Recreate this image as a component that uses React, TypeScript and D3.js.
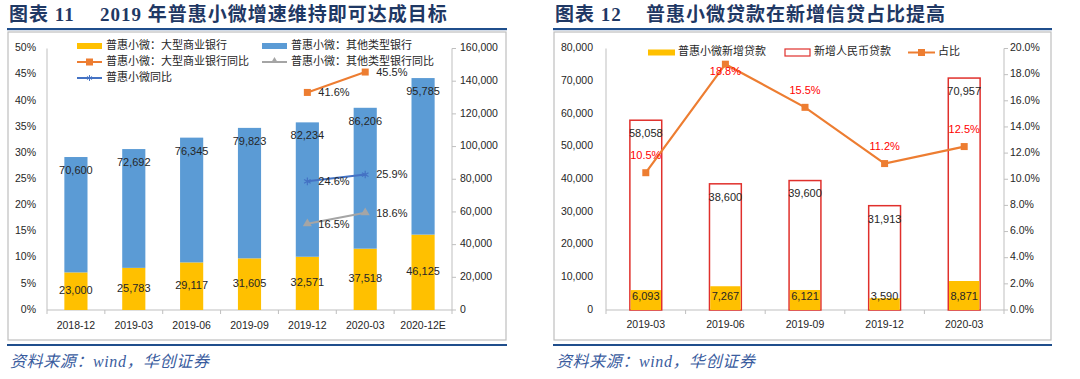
import React from 'react';
import * as d3 from 'd3';

// ---------- Left chart data ----------
const leftCats = ['2018-12', '2019-03', '2019-06', '2019-09', '2019-12', '2020-03', '2020-12E'];
const largeBank = [23000, 25783, 29117, 31605, 32571, 37518, 46125];
const otherBank = [70600, 72692, 76345, 79823, 82234, 86206, 95785];
const largeYoY: (number | null)[] = [null, null, null, null, 41.6, 45.5, null];
const otherYoY: (number | null)[] = [null, null, null, null, 16.5, 18.6, null];
const totalYoY: (number | null)[] = [null, null, null, null, 24.6, 25.9, null];
const leftPctTicks = [0, 5, 10, 15, 20, 25, 30, 35, 40, 45, 50];
const leftValTicks = [0, 20000, 40000, 60000, 80000, 100000, 120000, 140000, 160000];

// ---------- Right chart data ----------
const rightCats = ['2019-03', '2019-06', '2019-09', '2019-12', '2020-03'];
const inclusiveNew = [6093, 7267, 6121, 3590, 8871];
const rmbNew = [58058, 38600, 39600, 31913, 70957];
const shareRatio = [10.5, 18.8, 15.5, 11.2, 12.5];
const rightValTicks = [0, 10000, 20000, 30000, 40000, 50000, 60000, 70000, 80000];
const rightPctTicks = [0, 2, 4, 6, 8, 10, 12, 14, 16, 18, 20];

const YELLOW = '#FFC000';
const BLUE = '#5B9BD5';
const ORANGE = '#ED7D31';
const GRAY = '#A5A5A5';
const LBLUE = '#4472C4';
const RED = '#E0302C';
const AXIS = '#BFBFBF';
const TXT = '#262626';
const TITLE = '#1F3864';
const RULE = '#1F4E8C';
const FONT = '"Liberation Sans", Arial, "Noto Sans CJK SC", sans-serif';
const TFONT = '"Liberation Serif", "Noto Sans CJK SC", serif';

const fmt = d3.format(',');

function Header({ x, x2, num, text, textX }: { x: number; x2: number; num: string; text: string; textX: number }) {
  return (
    <g>
      <text x={x + 2} y={21} fontFamily={TFONT} fontWeight="bold" fontSize={19} fill={TITLE} letterSpacing={1}>
        {num}
      </text>
      <text x={textX} y={21} fontFamily={TFONT} fontWeight="bold" fontSize={19} fill={TITLE} letterSpacing={1}>
        {text}
      </text>
      <rect x={x} y={28} width={x2 - x} height={2.2} fill={RULE} />
      <rect x={x + 1} y={32} width={x2 - x - 2} height={308} fill="none" stroke={AXIS} strokeWidth={1.2} />
      <rect x={x} y={344} width={x2 - x} height={2} fill={RULE} />
      <text x={x + 3} y={367} fontFamily={TFONT} fontStyle="italic" fontSize={16} letterSpacing={0.6} fill="#3A5C9E">
        资料来源：wind，华创证券
      </text>
    </g>
  );
}

function LeftChart() {
  const x0 = 47, x1 = 452, yTop = 48.5, yBot = 310;
  const xb = d3.scaleBand().domain(leftCats).range([x0, x1]).paddingInner(0.6).paddingOuter(0.3);
  const xc = (c: string) => (xb(c) as number) + xb.bandwidth() / 2;
  const yL = d3.scaleLinear().domain([0, 50]).range([yBot, yTop]);
  const yR = d3.scaleLinear().domain([0, 160000]).range([yBot, yTop]);
  const step = (x1 - x0) / leftCats.length;

  const lineGen = d3
    .line<[number, number | null]>()
    .defined((d) => d[1] !== null)
    .x((d) => d[0])
    .y((d) => yL(d[1] as number));

  const seriesPts = (vals: (number | null)[]) => leftCats.map((c, i) => [xc(c), vals[i]] as [number, number | null]);

  const tri = d3.symbol(d3.symbolTriangle, 36)() as string;
  const ast = d3.symbol(d3.symbolAsterisk, 40)() as string;

  return (
    <g fontFamily={FONT}>
      {/* axes */}
      <line x1={x0} x2={x0} y1={yTop} y2={yBot} stroke={AXIS} />
      <line x1={x1} x2={x1} y1={yTop} y2={yBot} stroke={AXIS} />
      <line x1={x0} x2={x1} y1={yBot} y2={yBot} stroke={AXIS} />
      {leftCats.map((c, i) => (
        <line key={'t' + i} x1={x0 + step * i} x2={x0 + step * i} y1={yBot} y2={yBot + 4} stroke={AXIS} />
      ))}
      <line x1={x1} x2={x1} y1={yBot} y2={yBot + 4} stroke={AXIS} />
      {leftPctTicks.map((t) => (
        <text key={'lp' + t} x={36} y={yL(t)} textAnchor="end" dominantBaseline="middle" fontSize={10.5} fill={TXT}>
          {t}%
        </text>
      ))}
      {leftValTicks.map((t) => (
        <g key={'rv' + t}>
          <line x1={x1} x2={x1 + 4} y1={yR(t)} y2={yR(t)} stroke={AXIS} />
          <text x={460} y={yR(t)} dominantBaseline="middle" fontSize={10.5} fill={TXT}>
            {fmt(t)}
          </text>
        </g>
      ))}
      {leftCats.map((c) => (
        <text key={'xl' + c} x={xc(c)} y={326} textAnchor="middle" dominantBaseline="middle" fontSize={10.5} fill={TXT}>
          {c}
        </text>
      ))}
      {/* bars */}
      {leftCats.map((c, i) => {
        const bx = xb(c) as number;
        const yTopL = yR(largeBank[i]);
        const yTopO = yR(largeBank[i] + otherBank[i]);
        return (
          <g key={'b' + c}>
            <rect x={bx} y={yTopL} width={xb.bandwidth()} height={yBot - yTopL} fill={YELLOW} />
            <rect x={bx} y={yTopO} width={xb.bandwidth()} height={yTopL - yTopO} fill={BLUE} />
            <text x={xc(c)} y={(yTopL + yBot) / 2} textAnchor="middle" dominantBaseline="middle" fontSize={11} fill={TXT}>
              {fmt(largeBank[i])}
            </text>
            <text x={xc(c)} y={yTopO + 14} textAnchor="middle" dominantBaseline="middle" fontSize={11} fill={TXT}>
              {fmt(otherBank[i])}
            </text>
          </g>
        );
      })}
      {/* lines */}
      <path d={lineGen(seriesPts(largeYoY)) as string} fill="none" stroke={ORANGE} strokeWidth={2} />
      <path d={lineGen(seriesPts(otherYoY)) as string} fill="none" stroke={GRAY} strokeWidth={2} />
      <path d={lineGen(seriesPts(totalYoY)) as string} fill="none" stroke={LBLUE} strokeWidth={2} />
      {leftCats.map((c, i) => (
        <g key={'m' + c}>
          {largeYoY[i] !== null && (
            <g>
              <rect x={xc(c) - 3.5} y={yL(largeYoY[i] as number) - 3.5} width={7} height={7} fill={ORANGE} />
              <text x={xc(c) + 11} y={yL(largeYoY[i] as number) + 1} dominantBaseline="middle" fontSize={11} fill={TXT}>
                {(largeYoY[i] as number).toFixed(1)}%
              </text>
            </g>
          )}
          {otherYoY[i] !== null && (
            <g>
              <path d={tri} transform={`translate(${xc(c)},${yL(otherYoY[i] as number)})`} fill={GRAY} />
              <text x={xc(c) + 11} y={yL(otherYoY[i] as number) + 1} dominantBaseline="middle" fontSize={11} fill={TXT}>
                {(otherYoY[i] as number).toFixed(1)}%
              </text>
            </g>
          )}
          {totalYoY[i] !== null && (
            <g>
              <path d={ast} transform={`translate(${xc(c)},${yL(totalYoY[i] as number)})`} fill="none" stroke={LBLUE} strokeWidth={1.2} />
              <text x={xc(c) + 11} y={yL(totalYoY[i] as number) + 1} dominantBaseline="middle" fontSize={11} fill={TXT}>
                {(totalYoY[i] as number).toFixed(1)}%
              </text>
            </g>
          )}
        </g>
      ))}
      {/* legend */}
      <g fontSize={11} fill={TXT}>
        <rect x={77} y={43} width={25} height={6} fill={YELLOW} />
        <text x={106} y={46} dominantBaseline="middle">普惠小微：大型商业银行</text>
        <rect x={262} y={43} width={25} height={6} fill={BLUE} />
        <text x={291} y={46} dominantBaseline="middle">普惠小微：其他类型银行</text>
        <line x1={77} x2={102} y1={62} y2={62} stroke={ORANGE} strokeWidth={2} />
        <rect x={86} y={58.5} width={7} height={7} fill={ORANGE} />
        <text x={106} y={62} dominantBaseline="middle">普惠小微：大型商业银行同比</text>
        <line x1={262} x2={287} y1={62} y2={62} stroke={GRAY} strokeWidth={2} />
        <path d={d3.symbol(d3.symbolTriangle, 22)() as string} transform="translate(274.5,61)" fill={GRAY} />
        <text x={291} y={62} dominantBaseline="middle">普惠小微：其他类型银行同比</text>
        <line x1={77} x2={102} y1={78} y2={78} stroke={LBLUE} strokeWidth={2} />
        <path d={d3.symbol(d3.symbolAsterisk, 24)() as string} transform="translate(89.5,78)" fill="none" stroke={LBLUE} strokeWidth={1} />
        <text x={106} y={78} dominantBaseline="middle">普惠小微同比</text>
      </g>
    </g>
  );
}

function RightChart() {
  const x0 = 606, x1 = 1004, yTop = 48.5, yBot = 310;
  const xb = d3.scaleBand().domain(rightCats).range([x0, x1]).paddingInner(0.6).paddingOuter(0.3);
  const xc = (c: string) => (xb(c) as number) + xb.bandwidth() / 2;
  const yL = d3.scaleLinear().domain([0, 80000]).range([yBot, yTop]);
  const yR = d3.scaleLinear().domain([0, 20]).range([yBot, yTop]);
  const step = (x1 - x0) / rightCats.length;
  const lineGen = d3
    .line<number>()
    .x((_, i) => xc(rightCats[i]))
    .y((d) => yR(d));

  return (
    <g fontFamily={FONT}>
      <line x1={x0} x2={x0} y1={yTop} y2={yBot} stroke={AXIS} />
      <line x1={x1} x2={x1} y1={yTop} y2={yBot} stroke={AXIS} />
      <line x1={x0} x2={x1} y1={yBot} y2={yBot} stroke={AXIS} />
      {rightCats.map((c, i) => (
        <line key={'t' + i} x1={x0 + step * i} x2={x0 + step * i} y1={yBot} y2={yBot + 4} stroke={AXIS} />
      ))}
      <line x1={x1} x2={x1} y1={yBot} y2={yBot + 4} stroke={AXIS} />
      {rightValTicks.map((t) => (
        <text key={'lv' + t} x={593} y={yL(t)} textAnchor="end" dominantBaseline="middle" fontSize={10.5} fill={TXT}>
          {fmt(t)}
        </text>
      ))}
      {rightPctTicks.map((t) => (
        <g key={'rp' + t}>
          <line x1={x1} x2={x1 + 4} y1={yR(t)} y2={yR(t)} stroke={AXIS} />
          <text x={1010} y={yR(t)} dominantBaseline="middle" fontSize={10.5} fill={TXT}>
            {t.toFixed(1)}%
          </text>
        </g>
      ))}
      {rightCats.map((c) => (
        <text key={'xl' + c} x={xc(c)} y={325} textAnchor="middle" dominantBaseline="middle" fontSize={10.5} fill={TXT}>
          {c}
        </text>
      ))}
      {rightCats.map((c, i) => {
        const bx = xb(c) as number;
        const yt = yL(rmbNew[i]);
        const yy = yL(inclusiveNew[i]);
        return (
          <g key={'b' + c}>
            <rect x={bx} y={yt} width={xb.bandwidth()} height={yBot - yt} fill="#fff" stroke={RED} strokeWidth={1.5} />
            <rect x={bx + 0.75} y={yy} width={xb.bandwidth() - 1.5} height={yBot - yy} fill={YELLOW} />
            <text x={xc(c)} y={yt + 14} textAnchor="middle" dominantBaseline="middle" fontSize={11} fill={TXT}>
              {fmt(rmbNew[i])}
            </text>
            <text x={xc(c)} y={yBot - 12.5} textAnchor="middle" dominantBaseline="middle" fontSize={11} fill={TXT}>
              {fmt(inclusiveNew[i])}
            </text>
          </g>
        );
      })}
      <path d={lineGen(shareRatio) as string} fill="none" stroke={ORANGE} strokeWidth={2.2} />
      {rightCats.map((c, i) => {
        const py = yR(shareRatio[i]);
        const ly = py - 17 < yTop + 4 ? py + 8 : py - 16.5;
        return (
          <g key={'m' + c}>
            <rect x={xc(c) - 3.5} y={py - 3.5} width={7} height={7} fill={ORANGE} />
            <text x={xc(c)} y={ly} textAnchor="middle" dominantBaseline="middle" fontSize={11} fill="#FF0000">
              {shareRatio[i].toFixed(1)}%
            </text>
          </g>
        );
      })}
      <g fontSize={11} fill={TXT}>
        <rect x={648} y={49.5} width={27} height={6} fill={YELLOW} />
        <text x={678} y={52.5} dominantBaseline="middle">普惠小微新增贷款</text>
        <rect x={785} y={49} width={25} height={7} fill="#fff" stroke={RED} strokeWidth={1.2} />
        <text x={814} y={52.5} dominantBaseline="middle">新增人民币贷款</text>
        <line x1={908} x2={935} y1={52.5} y2={52.5} stroke={ORANGE} strokeWidth={2} />
        <rect x={918} y={49} width={7} height={7} fill={ORANGE} />
        <text x={938} y={52.5} dominantBaseline="middle">占比</text>
      </g>
    </g>
  );
}

export default function App() {
  return (
    <svg
      width={1080}
      height={379}
      viewBox="0 0 1080 379"
      style={{ position: 'absolute', left: 0, top: 0, background: '#fff' }}
    >
      <rect x={0} y={0} width={1080} height={379} fill="#fff" />
      <Header x={7} x2={507} num="图表 11" textX={100} text="2019 年普惠小微增速维持即可达成目标" />
      <Header x={553} x2={1052} num="图表 12" textX={646} text="普惠小微贷款在新增信贷占比提高" />
      <LeftChart />
      <RightChart />
    </svg>
  );
}
